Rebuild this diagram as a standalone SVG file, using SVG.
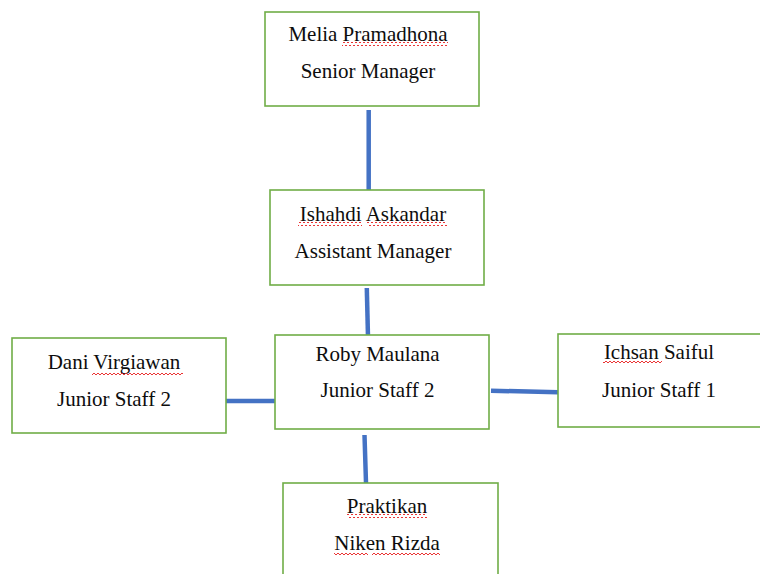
<svg xmlns="http://www.w3.org/2000/svg" width="760" height="574" viewBox="0 0 760 574">
<defs>
<style>
.box{fill:#ffffff;stroke:#70AD47;stroke-width:1.6}
.t{font-family:'Liberation Serif','Times New Roman','DejaVu Serif',serif;font-size:21px;fill:#0d0d0d;text-anchor:middle}
.c{stroke:#4472C4;stroke-width:4.5;fill:none}
.sq{fill:url(#squig)}
</style>
<pattern id="squig" patternUnits="userSpaceOnUse" width="4" height="4">
<path d="M0,3 L2,1 L4,3" fill="none" stroke="#E81E1E" stroke-width="0.9"/>
</pattern>
</defs>
<rect width="760" height="574" fill="#ffffff"/>
<g id="connectors">
<line class="c" x1="368.7" y1="110" x2="368.7" y2="192"/>
<line class="c" x1="366.8" y1="288" x2="368" y2="337"/>
<line class="c" x1="223" y1="401" x2="279" y2="401"/>
<line class="c" x1="491" y1="390.7" x2="558" y2="392.3"/>
<line class="c" x1="364.5" y1="435" x2="366" y2="483"/>
</g>
<g id="nodes" font-family="Liberation Serif, Times New Roman, serif">
<g id="melia">
<rect class="box" x="265" y="12" width="214" height="94"/>
<text class="t" x="368" y="41">Melia Pramadhona</text>
<text class="t" x="368" y="78">Senior Manager</text>
<rect class="sq" x="342" y="42" width="106" height="4"/>
</g>
<g id="ishahdi">
<rect class="box" x="270" y="190" width="214" height="95"/>
<text class="t" x="373" y="221">Ishahdi Askandar</text>
<text class="t" x="373" y="258">Assistant Manager</text>
<rect class="sq" x="298" y="222" width="64" height="4"/>
<rect class="sq" x="367" y="222" width="80" height="4"/>
</g>
<g id="dani">
<rect class="box" x="12" y="338" width="214" height="95"/>
<text class="t" x="114" y="369">Dani Virgiawan</text>
<text class="t" x="114" y="406">Junior Staff 2</text>
<rect class="sq" x="92" y="371" width="91" height="4"/>
</g>
<g id="roby">
<rect class="box" x="275" y="335" width="214" height="94"/>
<text class="t" x="377.5" y="361">Roby Maulana</text>
<text class="t" x="377.5" y="397">Junior Staff 2</text>
</g>
<g id="ichsan">
<rect class="box" x="558" y="334" width="210" height="93"/>
<text class="t" x="659" y="359">Ichsan Saiful</text>
<text class="t" x="659" y="397">Junior Staff 1</text>
<rect class="sq" x="603" y="361" width="59" height="4"/>
</g>
<g id="praktikan">
<rect class="box" x="283" y="483" width="215" height="110"/>
<text class="t" x="387" y="513">Praktikan</text>
<text class="t" x="387" y="550">Niken Rizda</text>
<rect class="sq" x="347" y="514" width="80" height="4"/>
<rect class="sq" x="334" y="551" width="34" height="4"/>
<rect class="sq" x="372" y="551" width="68" height="4"/>
</g>
</g>
</svg>
